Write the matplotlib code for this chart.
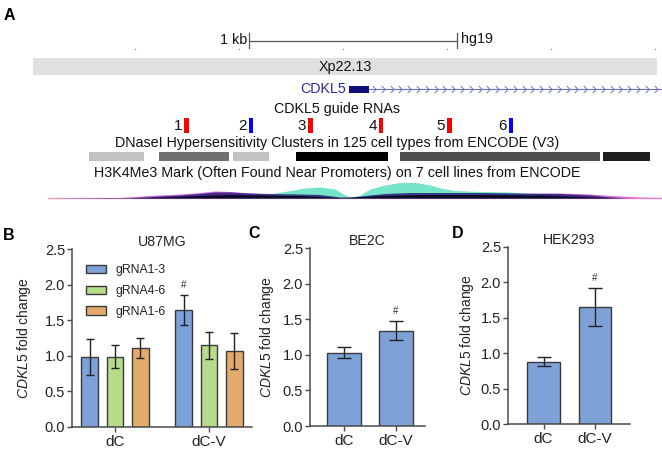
import numpy as np
import matplotlib
matplotlib.use('Agg')
import matplotlib.pyplot as plt
from matplotlib.path import Path
from matplotlib.patches import Patch, Rectangle
from matplotlib.ticker import FormatStrFormatter

plt.rcParams['font.family'] = ['Liberation Sans', 'DejaVu Sans']
plt.rcParams['mathtext.fontset'] = 'custom'
plt.rcParams['mathtext.rm'] = 'Liberation Sans'
plt.rcParams['mathtext.it'] = 'Liberation Sans:italic'

# ---------------- Panel A data (genome positions in kb from window start) ----------------
scale_bar_kb = [1.04, 2.04]
ruler_ticks_kb = [0.49, 0.99, 1.49, 1.99, 2.49, 2.99]
band_kb = [0.0, 3.0]
band_name = 'Xp22.13'
gene_name = 'CDKL5'
gene_exon_kb = [1.52, 1.615]
gene_end_kb = 3.03
guide_ids = ['1', '2', '3', '4', '5', '6']
guide_pos_kb = [0.736, 1.048, 1.332, 1.673, 2.0, 2.298]
guide_strand = ['+', '-', '+', '+', '+', '-']
dnase_start_kb = [0.269, 0.606, 0.962, 1.264, 1.764, 2.740]
dnase_end_kb = [0.534, 0.942, 1.135, 1.707, 2.726, 2.966]
dnase_gray = [0.76, 0.44, 0.76, 0.0, 0.31, 0.12]

teal_kb = [0.072, 0.803, 1.043, 1.139, 1.236, 1.308, 1.380, 1.452, 1.500, 1.534, 1.572, 1.620,
           1.692, 1.764, 1.837, 1.909, 1.957, 2.029, 2.149, 2.293, 2.389, 2.462, 2.534, 2.630, 3.024]
teal_sig = [0, 0.5, 2, 4, 7.5, 10, 11, 9, 3, 1, 3, 9, 13, 15.5, 15.5, 13, 10, 7.5, 6.5, 6, 4.5, 3, 1.5, 0, 0]
navy_kb = [0.072, 0.466, 0.563, 0.707, 0.803, 0.875, 0.947, 1.043, 1.139, 1.284, 1.380, 1.476,
           1.524, 1.596, 1.692, 1.813, 1.957, 2.149, 2.341, 2.534, 2.678, 2.774, 2.870, 3.024]
navy_sig = [0, 0, 1.5, 3, 4.5, 6, 6, 5, 4.5, 4, 3.5, 1, 0.5, 2.5, 4.5, 5.5, 5.5, 5.5, 5, 4.5, 3, 1, 0, 0]
magenta_kb = [0.072, 0.418, 0.563, 0.707, 0.803, 0.875, 0.947, 1.043, 1.139, 1.284, 1.428, 1.524,
              1.668, 1.861, 2.149, 2.341, 2.534, 2.678, 2.774, 2.918, 3.024]
magenta_sig = [0, 0.5, 2.5, 4, 5.5, 7, 6.5, 5, 4, 2.5, 1, 0, 1, 2.5, 3.5, 4.5, 5, 4, 2.5, 1, 0.5]
black_kb = [0.072, 0.563, 0.803, 0.947, 1.091, 1.284, 1.476, 1.668, 1.861, 2.149, 2.437, 2.630,
            2.822, 3.024]
black_sig = [0, 0.5, 2.5, 3.5, 3, 2.5, 0.5, 2.5, 3.5, 3.5, 3, 1.5, 0, 0]

# ---------------- Panels B-D data ----------------
conditions = ['dC', 'dC-V']
u87_guides = ['gRNA1-3', 'gRNA4-6', 'gRNA1-6']
u87_mean = [[0.98, 1.64], [0.99, 1.15], [1.11, 1.07]]
u87_err = [[0.255, 0.21], [0.16, 0.19], [0.145, 0.255]]
u87_sig = [[False, True], [False, False], [False, False]]
be2c_mean = [1.03, 1.34]
be2c_err = [0.08, 0.135]
be2c_sig = [False, True]
hek_mean = [0.88, 1.65]
hek_err = [0.06, 0.27]
hek_sig = [False, True]

W, H = 662, 453
fig = plt.figure(figsize=(W / 100, H / 100), dpi=100)

# ---------------- Panel A ----------------
axA = fig.add_axes([0, 1 - 205 / H, 1, 205 / H])
PX = 1 / 208.0  # kb per pixel
x0 = -33 * PX
axA.set_xlim(x0, x0 + W * PX)
axA.set_ylim(205, 0)
axA.axis('off')
tfs = 10.3
title_x = (337 - 33) * PX

# scale bar
axA.plot(scale_bar_kb, [41, 41], color='#555555', lw=0.9)
for xb in scale_bar_kb:
    axA.plot([xb, xb], [33, 48], color='#555555', lw=0.9)
axA.text(scale_bar_kb[0] - 2 * PX, 40, '1 kb', ha='right', va='center', fontsize=tfs, color='#111111')
axA.text(scale_bar_kb[1] + 4 * PX, 39, 'hg19', ha='left', va='center', fontsize=tfs, color='#111111')
axA.scatter(ruler_ticks_kb, [49] * len(ruler_ticks_kb), s=1.2, color='#999999', lw=0)

# ideogram band
axA.add_patch(Rectangle((band_kb[0], 58), band_kb[1] - band_kb[0], 17, facecolor='#e0e0e0', edgecolor='none'))
axA.text(np.mean(band_kb), 67, band_name, ha='center', va='center', fontsize=tfs, color='#111111')

# gene
gene_col = '#2a2a9c'
axA.plot([gene_exon_kb[1], gene_end_kb], [89, 89], color='#7070d0', lw=0.8)
chev = Path([(-0.5, 1), (0.5, 0), (-0.5, -1)], [Path.MOVETO, Path.LINETO, Path.LINETO])
chev_x = np.arange(gene_exon_kb[1] + 5 * PX, gene_end_kb, 8.8 * PX)
axA.plot(chev_x, [89] * len(chev_x), ls='none', marker=chev, ms=5, mfc='none', mec='#7070d0', mew=0.7)
axA.add_patch(Rectangle((gene_exon_kb[0], 85.5), gene_exon_kb[1] - gene_exon_kb[0], 7,
                        facecolor='#10107a', edgecolor='none'))
axA.text(gene_exon_kb[0] - 3 * PX, 89, gene_name, ha='right', va='center', fontsize=tfs, color=gene_col)

# guides
axA.text(title_x, 109, 'CDKL5 guide RNAs', ha='center', va='center', fontsize=tfs, color='#111111')
for gid, gx, st in zip(guide_ids, guide_pos_kb, guide_strand):
    col = '#ff0000' if st == '+' else '#0000ff'
    axA.add_patch(Rectangle((gx - 2 * PX, 118), 4.5 * PX, 15, facecolor=col, edgecolor='none'))
    axA.text(gx - 4 * PX, 126, gid, ha='right', va='center', fontsize=11, color='#111111')

# DNase clusters
axA.text(title_x, 143, 'DNaseI Hypersensitivity Clusters in 125 cell types from ENCODE (V3)',
         ha='center', va='center', fontsize=tfs, color='#111111')
for s, e, g in zip(dnase_start_kb, dnase_end_kb, dnase_gray):
    axA.add_patch(Rectangle((s, 152), e - s, 9, facecolor=str(g), edgecolor='none'))

# H3K4Me3
axA.text(title_x, 173, 'H3K4Me3 Mark (Often Found Near Promoters) on 7 cell lines from ENCODE',
         ha='center', va='center', fontsize=tfs, color='#111111')
base = 198
axA.plot([teal_kb[0], x0 + W * PX], [base, base], color='#f4a0c4', lw=1.0, zorder=1)
axA.fill_between(magenta_kb, base, base - np.array(magenta_sig), color='#d050d0', lw=0, alpha=0.85, zorder=2)
axA.fill_between(teal_kb, base, base - np.array(teal_sig), color='#6fe3c6', lw=0, alpha=0.95, zorder=3)
axA.fill_between(navy_kb, base, base - np.array(navy_sig), color='#2a1d7a', lw=0, alpha=0.85, zorder=4)
axA.fill_between(black_kb, base, base - np.array(black_sig), color='#0a0520', lw=0, alpha=0.9, zorder=5)

# ---------------- Panels B-D ----------------
def px_axes(l, t, r, b):
    return fig.add_axes([l / W, 1 - b / H, (r - l) / W, (b - t) / H])

spine_col = '#4a4a4a'
edge_col = '#3a3a3a'
blue, green, orange = '#7ea1d8', '#b6dc8a', '#e2ab6c'


def style(ax, title, xlim, ylab_x):
    ax.set_xlim(*xlim)
    ax.set_ylim(0, 2.5)
    ax.set_yticks([0, 0.5, 1.0, 1.5, 2.0, 2.5])
    ax.yaxis.set_major_formatter(FormatStrFormatter('%.1f'))
    ax.set_xticks([0, 1])
    ax.set_xticklabels(conditions)
    for sp in ['top', 'right']:
        ax.spines[sp].set_visible(False)
    for sp in ['left', 'bottom']:
        ax.spines[sp].set_color(spine_col)
        ax.spines[sp].set_linewidth(1.1)
    ax.tick_params(axis='both', colors=spine_col, length=3.5, width=1.0, labelcolor='#222222')
    ax.tick_params(axis='y', labelsize=10.5, pad=1.5)
    ax.tick_params(axis='x', labelsize=11, pad=2)
    ax.set_title(title, fontsize=10.2, pad=-1.5, color='#222222')
    ax.set_ylabel(r'$\mathit{CDKL5}$ fold change', fontsize=10, color='#222222')
    ax.yaxis.set_label_coords(ylab_x, 0.5)


def bars(ax, xs, means, errs, sigs, color, width, capsize):
    ax.bar(xs, means, width=width, color=color, edgecolor=edge_col, linewidth=1.0, zorder=2)
    ax.errorbar(xs, means, yerr=errs, fmt='none', ecolor='#222222', elinewidth=1.0,
                capsize=capsize, capthick=1.0, zorder=3)
    for x, m, e, s in zip(xs, means, errs, sigs):
        if s:
            ax.text(x, m + e + 0.07, '#', ha='center', va='bottom', fontsize=7, color='#333333')


# B
axB = px_axes(72, 249, 252, 427)
offsets = [-0.27, 0.0, 0.27]
cols = [blue, green, orange]
for gname, off, c, m, e, s in zip(u87_guides, offsets, cols, u87_mean, u87_err, u87_sig):
    bars(axB, np.arange(2) + off, m, e, s, c, 0.18, 3.2)
style(axB, 'U87MG', (-0.457, 1.457), -0.215)
handles = [Patch(facecolor=c, edgecolor=edge_col, linewidth=1.0) for c in cols]
axB.legend(handles, u87_guides, loc='upper left', bbox_to_anchor=(0.078, 0.915), frameon=False,
           fontsize=8.8, handlelength=1.65, handleheight=0.65, labelspacing=0.72,
           handletextpad=0.8, borderpad=0, borderaxespad=0, labelcolor='#222222')

# C
axC = px_axes(310, 248, 425, 426)
bars(axC, np.arange(2), be2c_mean, be2c_err, be2c_sig, blue, 0.66, 4.8)
style(axC, 'BE2C', (-0.66, 1.57), -0.30)

# D
axD = px_axes(508, 247, 630, 424)
bars(axD, np.arange(2), hek_mean, hek_err, hek_sig, blue, 0.64, 5.0)
style(axD, 'HEK293', (-0.69, 1.68), -0.26)

# panel letters
for lab, (lx, ly) in zip('ABCD', [(4, 16), (3, 235), (248, 234), (452, 234)]):
    fig.text(lx / W, 1 - ly / H, lab, fontsize=11.5, fontweight='bold', ha='left', va='center')

fig.savefig('out.png', dpi=100)
